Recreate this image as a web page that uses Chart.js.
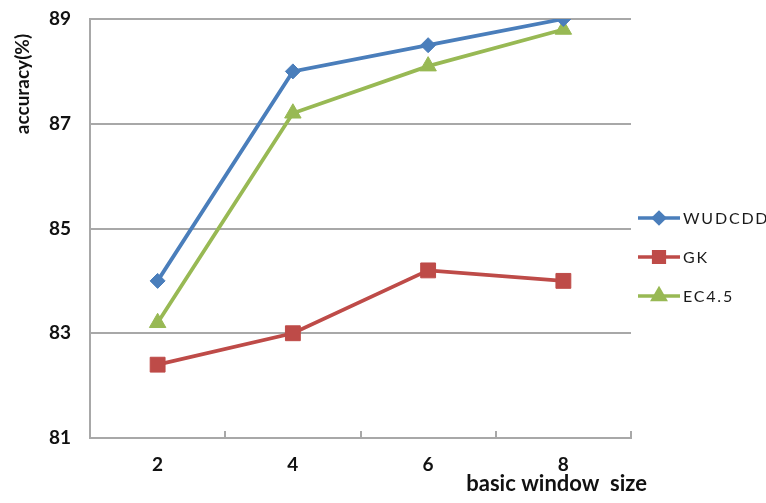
<!DOCTYPE html>
<html>
<head>
<meta charset="utf-8">
<script src="https://cdn.jsdelivr.net/npm/chart.js@4.4.1/dist/chart.umd.min.js"></script>
<style>
  html, body { margin: 0; padding: 0; background: #ffffff; }
  #wrap { width: 766px; height: 503px; }
</style>
</head>
<body>
<div id="wrap"><canvas id="c" width="766" height="503"></canvas></div>
<script>
// Window sizes on the horizontal axis
const windowSizes = ['2', '4', '6', '8'];

// Accuracy (%) of each method per basic window size
const wudcdd = [84.0, 88.0, 88.5, 89.0];
const gk     = [82.4, 83.0, 84.2, 84.0];
const ec45   = [83.2, 87.2, 88.1, 88.8];

const seriesNames = ['WUDCDD', 'GK', 'EC4.5'];

// Accuracy axis range and tick step
const yMin = 81, yMax = 89, yStep = 2;

const xTitle = 'basic window  size';
const yTitle = 'accuracy(%)';

const FONT = 'Lato, "Open Sans", "DejaVu Sans", sans-serif';
const GRID = '#a8a8a8';

// Legend on the right and axis titles drawn on top of the chart
const overlay = {
  id: 'overlay',
  afterDraw(chart) {
    const ctx = chart.ctx;
    const area = chart.chartArea;
    ctx.save();

    // legend entries: short line with a smaller marker, then the name
    const rows = [218, 257, 296];
    chart.data.datasets.forEach((ds, i) => {
      const y = rows[i];
      ctx.strokeStyle = ds.borderColor;
      ctx.lineWidth = 3.5;
      ctx.beginPath();
      ctx.moveTo(area.right + 7, y);
      ctx.lineTo(area.right + 49, y);
      ctx.stroke();
      ctx.fillStyle = ds.pointBackgroundColor;
      ctx.strokeStyle = ds.pointBorderColor;
      Chart.helpers.drawPoint(ctx, {
        pointStyle: ds.pointStyle,
        radius: ds.pointRadius * 0.72,
        borderWidth: 1,
        rotation: 0
      }, area.right + 28, y);
      ctx.fillStyle = '#1a1a1a';
      ctx.font = '16px ' + FONT;
      ctx.letterSpacing = '1.8px';
      ctx.textAlign = 'left';
      ctx.textBaseline = 'middle';
      ctx.fillText(ds.label, area.right + 52, y + 1);
    });
    ctx.letterSpacing = '0px';

    // horizontal axis title, bottom right
    ctx.fillStyle = '#111111';
    ctx.font = 'bold 22px ' + FONT;
    ctx.textAlign = 'right';
    ctx.textBaseline = 'alphabetic';
    ctx.fillText(xTitle, area.right + 16, 491);

    // vertical axis title, top left
    ctx.translate(23, 84);
    ctx.rotate(-Math.PI / 2);
    ctx.font = 'bold 19px ' + FONT;
    ctx.textAlign = 'center';
    ctx.textBaseline = 'middle';
    ctx.fillText(yTitle, 0, 0);

    ctx.restore();
  }
};

const whiteBg = {
  id: 'whiteBg',
  beforeDraw(chart) {
    const ctx = chart.ctx;
    ctx.save();
    ctx.fillStyle = '#ffffff';
    ctx.fillRect(0, 0, chart.width, chart.height);
    ctx.restore();
  }
};

function series(label, data, color, style, radius) {
  return {
    label: label,
    data: data,
    borderColor: color,
    backgroundColor: color,
    pointBackgroundColor: color,
    pointBorderColor: color,
    pointBorderWidth: 1,
    pointStyle: style,
    pointRadius: radius,
    pointHoverRadius: radius,
    borderWidth: 3.8,
    tension: 0,
    fill: false
  };
}

new Chart(document.getElementById('c'), {
  type: 'line',
  data: {
    labels: windowSizes,
    datasets: [
      series(seriesNames[0], wudcdd, '#4a7ebb', 'rectRot', 7.5),
      series(seriesNames[1], gk, '#be4b48', 'rect', 10.5),
      series(seriesNames[2], ec45, '#98b954', 'triangle', 9.5)
    ]
  },
  options: {
    responsive: false,
    animation: false,
    events: [],
    layout: { padding: { top: 19, right: 135, left: 0, bottom: 0 } },
    plugins: {
      legend: { display: false },
      tooltip: { enabled: false }
    },
    scales: {
      x: {
        offset: true,
        afterFit(scale) { scale.height = 65; },
        grid: {
          offset: true,
          drawOnChartArea: false,
          drawTicks: true,
          tickLength: -7,
          color: GRID,
          lineWidth: 2
        },
        border: { display: true, color: GRID, width: 2 },
        ticks: {
          padding: 22,
          color: '#111111',
          font: { family: FONT, size: 19, weight: 'bold' }
        }
      },
      y: {
        min: yMin,
        max: yMax,
        afterFit(scale) {
          scale.width = 90;
          scale.paddingTop = 0;
          scale.paddingBottom = 0;
        },
        ticks: {
          stepSize: yStep,
          padding: 19,
          color: '#111111',
          font: { family: FONT, size: 19, weight: 'bold' }
        },
        grid: {
          color: GRID,
          lineWidth: 2,
          drawTicks: false
        },
        border: { display: true, color: GRID, width: 2 }
      }
    }
  },
  plugins: [whiteBg, overlay]
});
</script>
</body>
</html>
